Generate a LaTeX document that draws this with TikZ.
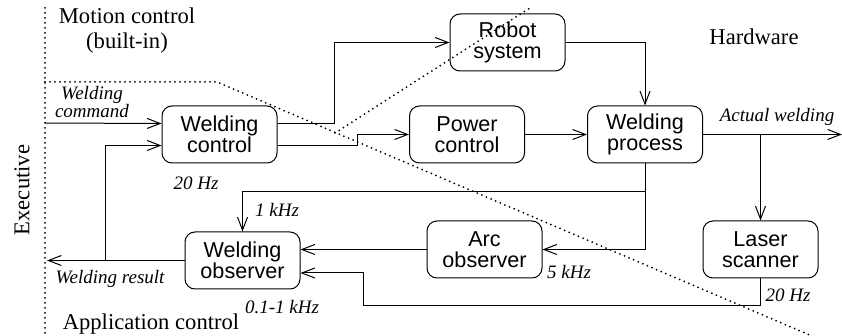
\documentclass[tikz,border=0pt]{standalone}
\usepackage{fontspec}
\setmainfont{Liberation Serif}
\newfontfamily\boxfont{Liberation Sans}
\usepackage{tikz}
\usetikzlibrary{arrows.meta,positioning}

\begin{document}
\begin{tikzpicture}[
  x=0.5pt, y=-0.5pt,
  >={Straight Barb[length=6.5pt,width=5pt]},
  blk/.style={rectangle, rounded corners=5pt, draw, line width=0.5pt,
    minimum width=57.5pt, minimum height=28.5pt, inner sep=1pt,
    align=center, font=\boxfont\fontsize{10.8}{10.6}\selectfont},
  wire/.style={draw, line width=0.5pt},
  lbl/.style={font=\itshape\fontsize{9.5}{8.7}\selectfont, align=center, inner sep=0pt},
  region/.style={font=\fontsize{11.3}{12.5}\selectfont, align=center, inner sep=0pt},
  dotline/.style={line width=1pt, line cap=round, dash pattern=on 0pt off 2.5pt}
]
  \useasboundingbox (0,0) rectangle (842,336);

  % domains
  \draw[dotline] (45,8) -- (45,336);
  \draw[dotline] (45,82) -- (217,82) -- (812,336);
  \draw[dotline] (335,133) -- (530,8);

  \node[region] (motion) at (127,31) {Motion control\\(built-in)};
  \node[region] (hw) at (754,37) {Hardware};
  \node[region] (app) at (151,324) {Application control};
  \node[region, rotate=90] (exec) at (22,190) {Executive};

  % blocks
  \foreach \name/\x/\y/\txt in {wctrl/219.5/134.5/{Welding\\control},
    robot/507.5/42.5/{Robot\\system}, power/467/134.5/{Power\\control},
    wproc/645/134.5/{Welding\\process}, arc/484.5/249.5/{Arc\\observer},
    laser/760.5/249.5/{Laser\\scanner}, wobs/242.5/260.5/{Welding\\observer}}
    \node[blk] (\name) at (\x,\y) {\txt};

  \coordinate (cmd) at (45,123);
  \coordinate (out) at (842,134.5);
  \coordinate (res) at (47,260.5);
  \coordinate (fb) at (105,260.5);
  \coordinate (k1) at (645,192);
  \coordinate (lsback) at (363,306);

  % connectors
  \draw[wire,->] (cmd) -- ([yshift=5.5pt]wctrl.west);
  \draw[wire,->] ([yshift=5.5pt]wctrl.east) -- ++(57,0) |- (robot);
  \draw[wire,->] ([yshift=-5.5pt]wctrl.east) -- ++(80,0) |- (power);
  \draw[wire,->] (power) -- (wproc);
  \draw[wire,->] (robot) -| (wproc);
  \draw[wire,->] (wproc) -- (out);
  \draw[wire,->] (wproc.east -| laser) -- (laser);
  \draw[wire,->] (wproc) |- (arc);
  \draw[wire,->] (k1) -| (wobs);
  \draw[wire,->] (arc.west) -- (arc.west -| wobs.east);
  \draw[wire,->] (laser.south) |- (lsback) |- ([yshift=-6.25pt]wobs.east);
  \draw[wire,->] (wobs) -- (res);
  \draw[wire,->] (fb) |- ([yshift=-5.5pt]wctrl.west);

  % labels
  \node[lbl] (cmdlbl) at (92,102) {Welding\\command};
  \node[lbl] (actual) at (777,117) {Actual welding};
  \node[lbl] (reslbl) at (110,279) {Welding result};
  \node[lbl] (f20a) at (196,183) {20 Hz};
  \node[lbl] (f1k) at (277,210) {1 kHz};
  \node[lbl] (f5k) at (569,272) {5 kHz};
  \node[lbl] (f01) at (282,307) {0.1-1 kHz};
  \node[lbl] (f20b) at (788,295) {20 Hz};
\end{tikzpicture}
\end{document}
